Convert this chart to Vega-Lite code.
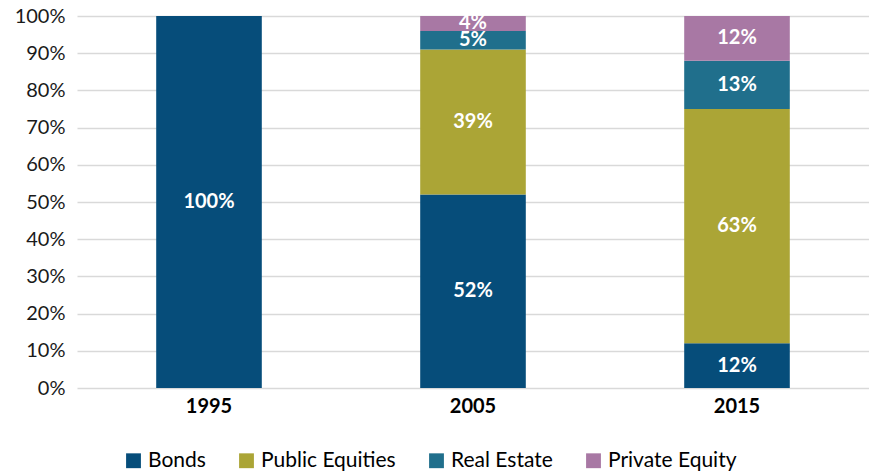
{
  "$schema": "https://vega.github.io/schema/vega-lite/v6.json",
  "width": 792,
  "height": 372,
  "autosize": {"type": "none"},
  "padding": {"left": 77, "top": 16, "right": 0, "bottom": 88},
  "background": "white",
  "config": {
    "view": {"stroke": null},
    "font": "Lato",
    "axisY": {
      "title": null, "format": ".0%", "values": [0,0.1,0.2,0.3,0.4,0.5,0.6,0.7,0.8,0.9,1],
      "labelOverlap": false,
      "ticks": false, "domain": false,
      "labelFontSize": 20, "labelColor": "#1a1a1a", "labelPadding": 12,
      "gridColor": "#d9d9d9", "gridWidth": 1.5
    }
  },
  "data": {
    "values": [
      {"Year": "1995", "Asset": "Bonds", "k": 1, "v": 1.00},
      {"Year": "2005", "Asset": "Bonds", "k": 1, "v": 0.52},
      {"Year": "2005", "Asset": "Public Equities", "k": 2, "v": 0.39},
      {"Year": "2005", "Asset": "Real Estate", "k": 3, "v": 0.05},
      {"Year": "2005", "Asset": "Private Equity", "k": 4, "v": 0.04},
      {"Year": "2015", "Asset": "Bonds", "k": 1, "v": 0.12},
      {"Year": "2015", "Asset": "Public Equities", "k": 2, "v": 0.63},
      {"Year": "2015", "Asset": "Real Estate", "k": 3, "v": 0.13},
      {"Year": "2015", "Asset": "Private Equity", "k": 4, "v": 0.12}
    ]
  },
  "transform": [
    {"stack": "v", "groupby": ["Year"], "sort": [{"field": "k", "order": "ascending"}], "as": ["y0", "y1"]},
    {"calculate": "(datum.y0 + datum.y1) / 2", "as": "mid"}
  ],
  "encoding": {
    "x": {
      "field": "Year", "type": "nominal",
      "scale": {"paddingInner": 0.6, "paddingOuter": 0.3},
      "axis": {
        "title": null, "labelAngle": 0, "ticks": false, "domain": false,
        "labelFontSize": 20, "labelFontWeight": "bold", "labelColor": "#000000",
        "labelPadding": 8
      }
    }
  },
  "layer": [
    {
      "mark": {"type": "bar"},
      "encoding": {
        "y": {
          "field": "y0", "type": "quantitative",
          "scale": {"domain": [0, 1]},
          "axis": {"title": null, "values": [0,0.1,0.2,0.3,0.4,0.5,0.6,0.7,0.8,0.9,1], "format": ".0%", "labelOverlap": false}
        },
        "y2": {"field": "y1"},
        "color": {
          "field": "Asset", "type": "nominal",
          "scale": {
            "domain": ["Bonds", "Public Equities", "Real Estate", "Private Equity"],
            "range": ["#064d7a", "#aba536", "#206f8c", "#a878a4"]
          },
          "legend": {
            "title": null, "orient": "none", "direction": "horizontal",
            "legendX": 46, "legendY": 434,
            "symbolType": "square", "symbolSize": 220, "symbolStrokeWidth": 0,
            "labelFontSize": 21, "labelColor": "#000000",
            "columnPadding": 30, "labelOffset": 4
          }
        }
      }
    },
    {
      "mark": {"type": "text", "color": "white", "fontWeight": "bold", "fontSize": 20, "baseline": "middle"},
      "encoding": {
        "y": {
          "field": "mid", "type": "quantitative",
          "axis": {"title": null, "values": [0,0.1,0.2,0.3,0.4,0.5,0.6,0.7,0.8,0.9,1], "format": ".0%", "labelOverlap": false}
        },
        "text": {"field": "v", "type": "quantitative", "format": ".0%"}
      }
    }
  ]
}
